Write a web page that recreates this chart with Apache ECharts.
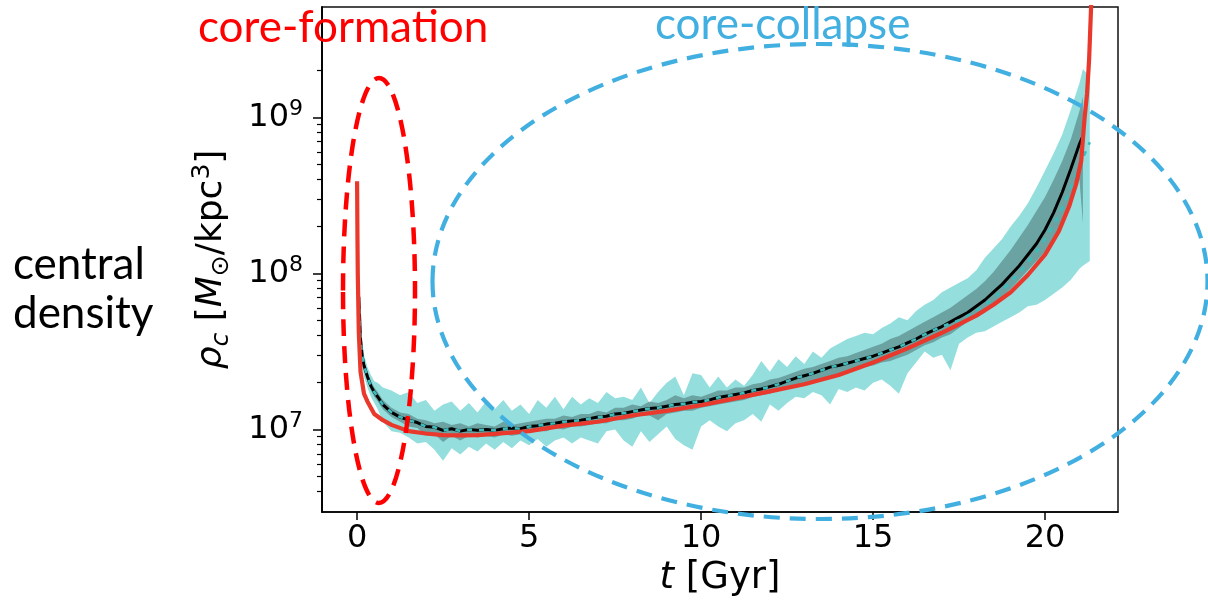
<!DOCTYPE html>
<html>
<head>
<meta charset="utf-8">
<script src="https://cdn.jsdelivr.net/npm/echarts@6/dist/echarts.min.js"></script>
<style>
  html, body { margin: 0; padding: 0; background: #fff; }
  #main { width: 1208px; height: 606px; }
</style>
</head>
<body>
<div id="main"></div>
<script>
// time grid of the simulation bands [Gyr]
var tSim = [
  0.05, 0.1, 0.15, 0.2, 0.3, 0.4, 0.5, 0.6, 0.75,
  1.0, 1.25, 1.5, 1.75, 2.0, 2.25, 2.5, 2.75, 3.0, 3.25, 3.5, 3.75,
  4.0, 4.25, 4.5, 4.75, 5.0, 5.25, 5.5, 5.75, 6.0, 6.25, 6.5, 6.75,
  7.0, 7.25, 7.5, 7.75, 8.0, 8.25, 8.5, 8.75, 9.0, 9.25, 9.5, 9.75,
  10.0, 10.25, 10.5, 10.75, 11.0, 11.25, 11.5, 11.75, 12.0, 12.25, 12.5, 12.75,
  13.0, 13.25, 13.5, 13.75, 14.0, 14.25, 14.5, 14.75, 15.0, 15.25, 15.5, 15.75,
  16.0, 16.25, 16.5, 16.75, 17.0, 17.25, 17.5, 17.75, 18.0, 18.25, 18.5, 18.75,
  19.0, 19.25, 19.5, 19.75, 20.0, 20.25, 20.5, 20.75, 21.0,
  21.1, 21.3
];

// all densities below are log10(rho_c / (Msun/kpc^3))
var medianLog = [
  7.85, 7.58, 7.47, 7.41, 7.34, 7.28, 7.24, 7.21, 7.16,
  7.11, 7.08, 7.06, 7.045, 7.02, 7.015, 6.995, 7.005, 6.99, 7.0, 6.995, 7.0,
  6.995, 7.005, 7.01, 7.005, 7.02, 7.025, 7.035, 7.04, 7.05, 7.055, 7.06, 7.07,
  7.08, 7.085, 7.10, 7.105, 7.115, 7.125, 7.135, 7.14, 7.15, 7.16, 7.165, 7.175,
  7.18, 7.19, 7.205, 7.215, 7.225, 7.235, 7.25, 7.26, 7.275, 7.29, 7.31, 7.33,
  7.345, 7.36, 7.38, 7.40, 7.41, 7.425, 7.44, 7.455, 7.47, 7.49, 7.51, 7.53,
  7.555, 7.58, 7.61, 7.635, 7.66, 7.69, 7.72, 7.75, 7.79, 7.83, 7.88, 7.93,
  7.99, 8.05, 8.12, 8.19, 8.28, 8.39, 8.52, 8.67, 8.83,
  8.88, null
];

// dashed cyan curve: on top of the median until 17 Gyr, then slightly below it
var tealTailLog = [
  7.68, 7.70, 7.73, 7.76, 7.80, 7.84, 7.89,
  7.95, 8.0, 8.07, 8.14, 8.22, 8.31, 8.42, 8.55, 8.68,
  8.74, 8.84
];

var outerHiLog = [
  7.95, 7.68, 7.55, 7.48, 7.40, 7.35, 7.31, 7.30, 7.27,
  7.25, 7.22, 7.24, 7.17, 7.19, 7.12, 7.16, 7.18, 7.12, 7.17, 7.11, 7.18,
  7.13, 7.19, 7.12, 7.16, 7.10, 7.19, 7.14, 7.21, 7.13, 7.21, 7.16, 7.20,
  7.17, 7.24, 7.20, 7.21, 7.19, 7.27, 7.17, 7.24, 7.30, 7.34, 7.22, 7.36,
  7.35, 7.27, 7.34, 7.27, 7.32, 7.28, 7.35, 7.44, 7.37, 7.45, 7.40, 7.47,
  7.42, 7.50, 7.46, 7.52, 7.55, 7.58, 7.60, 7.62, 7.61, 7.65, 7.68, 7.72,
  7.70, 7.76, 7.80, 7.83, 7.88, 7.91, 7.94, 7.97, 8.02, 8.10, 8.16, 8.22,
  8.30, 8.37, 8.45, 8.55, 8.66, 8.77, 8.89, 9.05, 9.22,
  9.31, 9.26
];

var outerLoLog = [
  7.75, 7.50, 7.40, 7.34, 7.27, 7.21, 7.17, 7.13, 7.05,
  6.99, 6.98, 6.95, 6.91, 6.92, 6.87, 6.80, 6.88, 6.84, 6.89, 6.86, 6.91,
  6.87, 6.92, 6.88, 6.93, 6.90, 6.94, 6.89, 6.93, 6.95, 6.91, 6.95, 6.93,
  6.91, 6.99, 7.00, 6.93, 6.89, 6.99, 6.92, 6.97, 7.02, 6.94, 6.90, 6.87,
  7.02, 7.06, 7.02, 6.99, 7.04, 7.06, 7.10, 7.05, 7.16, 7.12, 7.17, 7.21,
  7.20, 7.24, 7.22, 7.16, 7.26, 7.24, 7.27, 7.25, 7.30, 7.32, 7.28, 7.23,
  7.36, 7.43, 7.50, 7.46, 7.48, 7.38, 7.55, 7.59, 7.62, 7.63, 7.66, 7.69,
  7.72, 7.75, 7.79, 7.80, 7.83, 7.87, 7.91, 7.96, 8.03,
  8.05, 8.08
];

var innerHiLog = [
  7.90, 7.62, 7.50, 7.44, 7.37, 7.31, 7.27, 7.24, 7.19,
  7.14, 7.11, 7.10, 7.07, 7.06, 7.04, 7.05, 7.03, 7.04, 7.02, 7.04, 7.03,
  7.02, 7.05, 7.03, 7.04, 7.05, 7.06, 7.07, 7.07, 7.09, 7.08, 7.10, 7.10,
  7.12, 7.11, 7.14, 7.14, 7.16, 7.15, 7.18, 7.17, 7.19, 7.22, 7.20, 7.22,
  7.21, 7.23, 7.25, 7.25, 7.27, 7.27, 7.29, 7.30, 7.32, 7.33, 7.35, 7.37,
  7.39, 7.40, 7.42, 7.44, 7.46, 7.47, 7.49, 7.51, 7.53, 7.55, 7.58, 7.60,
  7.63, 7.66, 7.69, 7.72, 7.75, 7.78, 7.82, 7.86, 7.90, 7.95, 8.01, 8.08,
  8.15, 8.23, 8.31, 8.40, 8.49, 8.60, 8.72, 8.86, 9.04,
  9.13, null
];

var innerLoLog = [
  7.80, 7.54, 7.44, 7.38, 7.31, 7.25, 7.21, 7.18, 7.13,
  7.08, 7.05, 7.02, 7.01, 6.96, 6.97, 6.92, 6.96, 6.93, 6.96, 6.95, 6.96,
  6.95, 6.97, 6.96, 6.97, 6.98, 6.99, 6.99, 7.01, 7.00, 7.02, 7.02, 7.03,
  7.04, 7.04, 7.06, 7.06, 7.07, 7.09, 7.09, 7.06, 7.10, 7.11, 7.12, 7.12,
  7.14, 7.15, 7.16, 7.17, 7.18, 7.19, 7.21, 7.22, 7.23, 7.25, 7.27, 7.28,
  7.30, 7.31, 7.33, 7.33, 7.36, 7.37, 7.38, 7.40, 7.41, 7.43, 7.44, 7.46,
  7.48, 7.51, 7.54, 7.56, 7.59, 7.61, 7.65, 7.69, 7.72, 7.75, 7.80, 7.85,
  7.90, 7.96, 8.02, 8.08, 8.14, 8.22, 8.33, 8.48, 8.60,
  8.32, null
];

// semi-analytic model (red)
var tModel = [
  0, 0.01, 0.02, 0.05, 0.1, 0.2, 0.3, 0.5, 0.75, 1.0,
  1.5, 2, 2.5, 3, 3.5, 4, 5, 6, 7, 8,
  9, 10, 11, 12, 13, 14, 15, 16, 17, 18,
  18.5, 19, 19.5, 20, 20.4, 20.7, 20.9, 21.05, 21.15, 21.22,
  21.28, 21.34
];
var modelLog = [
  8.59, 8.25, 8.0, 7.62, 7.37, 7.23, 7.18, 7.10, 7.06, 7.03,
  6.99, 6.975, 6.965, 6.963, 6.965, 6.972, 6.99, 7.025, 7.05, 7.09,
  7.12, 7.156, 7.2, 7.245, 7.29, 7.35, 7.43, 7.52, 7.62, 7.73,
  7.80, 7.88, 7.99, 8.12, 8.27, 8.43, 8.57, 8.72, 9.0, 9.15,
  9.37, 9.72
];

var xTicks = [0, 5, 10, 15, 20];
var yMajor = [1e7, 1e8, 1e9];
var yMinor = [4e6, 5e6, 6e6, 7e6, 8e6, 9e6,
  2e7, 3e7, 4e7, 5e7, 6e7, 7e7, 8e7, 9e7,
  2e8, 3e8, 4e8, 5e8, 6e8, 7e8, 8e8, 9e8, 2e9];

var tealLog = medianLog.slice(0, 74).concat(tealTailLog);

var toRho = function (L) { return L == null ? null : Math.pow(10, L); };
var pairs = function (ts, logs) {
  return ts.map(function (t, i) { return [t, toRho(logs[i])]; });
};

// filled band between two curves, drawn as one polygon through the axes
var band = function (name, lo, hi, color, z) {
  return {
    name: name,
    type: "custom",
    coordinateSystem: "cartesian2d",
    silent: true,
    z: z,
    encode: { x: 0, y: [1, 2] },
    data: tSim.map(function (t, i) { return [t, toRho(lo[i]), toRho(hi[i])]; }),
    renderItem: function (params, api) {
      if (params.dataIndex !== 0) return null;
      var upper = [], lower = [];
      for (var i = 0; i < tSim.length; i++) {
        if (hi[i] == null || lo[i] == null) continue;
        upper.push(api.coord([tSim[i], toRho(hi[i])]));
        lower.push(api.coord([tSim[i], toRho(lo[i])]));
      }
      return {
        type: "polygon",
        shape: { points: upper.concat(lower.reverse()) },
        style: { fill: color, stroke: null }
      };
    }
  };
};

var FONT = "DejaVu Sans";
var BLUE = "#42afe1";
var axisColor = "#000";

var myChart = echarts.init(document.getElementById("main"));
var option = {
  animation: false,
  backgroundColor: "#fff",
  grid: {
    left: 322, right: 90, top: 7, bottom: 94,
    show: true, borderColor: "#111", borderWidth: 1.5,
    backgroundColor: "transparent"
  },
  xAxis: {
    type: "value",
    min: -1.02,
    max: 22.12,
    axisLine: { onZero: false, lineStyle: { color: axisColor, width: 1.5 } },
    axisTick: { customValues: xTicks, length: 8, lineStyle: { color: axisColor, width: 1.5 } },
    axisLabel: { customValues: xTicks, fontSize: 32, fontFamily: FONT, color: "#000", margin: 11 },
    splitLine: { show: false },
    name: "{i|t} [Gyr]",
    nameLocation: "middle",
    nameGap: 47,
    nameTextStyle: {
      fontSize: 37, fontFamily: FONT, color: "#000",
      rich: { i: { fontSize: 37, fontFamily: FONT, fontStyle: "italic", color: "#000" } }
    }
  },
  yAxis: [
    {
      type: "log",
      logBase: 10,
      min: 2.965e6,
      max: 5.09e9,
      position: "left",
      axisLine: { show: true, onZero: false, lineStyle: { color: axisColor, width: 1.5 } },
      axisTick: { customValues: yMajor, length: 9, lineStyle: { color: axisColor, width: 1.5 } },
      axisLabel: {
        customValues: yMajor,
        margin: 19,
        formatter: function (v) {
          return "{b|10}{s|" + Math.round(Math.log10(v)) + "}";
        },
        rich: {
          b: { fontSize: 32, fontFamily: FONT, color: "#000", lineHeight: 38 },
          s: { fontSize: 22, fontFamily: FONT, color: "#000", lineHeight: 22, verticalAlign: "top" }
        }
      },
      splitLine: { show: false },
      name: "{i|ρ}{si|c} [{i|M}{sn|⊙}/kpc{sp|3}]",
      nameLocation: "middle",
      nameGap: 88,
      nameTextStyle: {
        fontSize: 36, fontFamily: FONT, color: "#000", lineHeight: 44,
        rich: {
          i: { fontSize: 36, fontFamily: FONT, fontStyle: "italic", color: "#000", lineHeight: 44 },
          si: { fontSize: 25, fontFamily: FONT, fontStyle: "italic", color: "#000", lineHeight: 25, verticalAlign: "bottom" },
          sn: { fontSize: 25, fontFamily: FONT, color: "#000", lineHeight: 25, verticalAlign: "bottom" },
          sp: { fontSize: 25, fontFamily: FONT, color: "#000", lineHeight: 25, verticalAlign: "top" }
        }
      }
    },
    {
      // same scale, carries the short minor ticks
      type: "log",
      logBase: 10,
      min: 2.965e6,
      max: 5.09e9,
      position: "left",
      axisLine: { show: true, onZero: false, lineStyle: { color: axisColor, width: 1.5 } },
      axisTick: { show: true, customValues: yMinor, length: 5, lineStyle: { color: axisColor, width: 1.2 } },
      axisLabel: { show: false },
      splitLine: { show: false }
    }
  ],
  series: [
    band("outer", outerLoLog, outerHiLog, "rgba(0,176,176,0.42)", 1),
    band("inner", innerLoLog, innerHiLog, "rgba(50,80,80,0.42)", 2),
    {
      name: "median", type: "line", symbol: "none", silent: true, z: 3,
      lineStyle: { color: "#000", width: 3 },
      data: pairs(tSim, medianLog)
    },
    {
      name: "mean", type: "line", symbol: "none", silent: true, z: 4,
      yAxisIndex: 1,
      lineStyle: { color: "#3cbcbc", width: 2.6, type: [5, 7] },
      data: pairs(tSim, tealLog)
    },
    {
      name: "model", type: "line", symbol: "none", silent: true, z: 5,
      lineStyle: { color: "#e8392c", width: 4.2 },
      data: pairs(tModel, modelLog)
    }
  ],
  graphic: [
    {
      type: "text", x: 198, y: 28, z: 100,
      style: { text: "core-formation", fill: "#ff0000", font: "44px Lato", verticalAlign: "middle" }
    },
    {
      type: "text", x: 655, y: 25, z: 100,
      style: { text: "core-collapse", fill: BLUE, font: "44px Lato", verticalAlign: "middle" }
    },
    {
      type: "text", x: 13, y: 265, z: 100,
      style: { text: "central", fill: "#000", font: "44px Lato", verticalAlign: "middle" }
    },
    {
      type: "text", x: 13, y: 314, z: 100,
      style: { text: "density", fill: "#000", font: "44px Lato", verticalAlign: "middle" }
    },
    {
      type: "ellipse", z: 100, silent: true,
      shape: { cx: 379, cy: 290.5, rx: 36, ry: 212.5 },
      style: { fill: "none", stroke: "#ff0000", lineWidth: 4.5, lineDash: [17, 10] }
    },
    {
      type: "ellipse", z: 100, silent: true,
      shape: { cx: 820, cy: 281.5, rx: 387.5, ry: 237.5 },
      style: { fill: "none", stroke: BLUE, lineWidth: 4.2, lineDash: [16, 10] }
    }
  ]
};
myChart.setOption(option);
</script>
</body>
</html>
